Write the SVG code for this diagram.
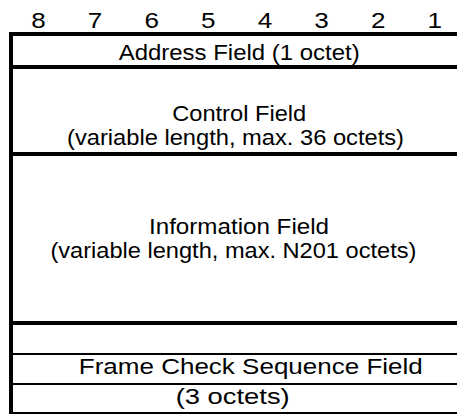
<svg xmlns="http://www.w3.org/2000/svg" width="457" height="414" viewBox="0 0 457 414">
<style>
.t{font-family:"Liberation Sans",Arial,sans-serif;font-size:22.5px;fill:#000;text-anchor:middle}
.ln{fill:#000}
</style>
<rect x="0" y="0" width="457" height="414" fill="#fff"/>
<g id="bit-numbers">
<text class="t" x="38.5" y="28" textLength="14.5" lengthAdjust="spacingAndGlyphs">8</text>
<text class="t" x="95" y="28" textLength="14.5" lengthAdjust="spacingAndGlyphs">7</text>
<text class="t" x="151.7" y="28" textLength="14.5" lengthAdjust="spacingAndGlyphs">6</text>
<text class="t" x="208.3" y="28" textLength="14.5" lengthAdjust="spacingAndGlyphs">5</text>
<text class="t" x="265" y="28" textLength="14.5" lengthAdjust="spacingAndGlyphs">4</text>
<text class="t" x="321.6" y="28" textLength="14.5" lengthAdjust="spacingAndGlyphs">3</text>
<text class="t" x="378.2" y="28" textLength="14.5" lengthAdjust="spacingAndGlyphs">2</text>
<text class="t" x="434.8" y="28" textLength="14.5" lengthAdjust="spacingAndGlyphs">1</text>
</g>
<g id="frame-lines">
<rect class="ln" x="9" y="32" width="4" height="382"/>
<rect class="ln" x="9" y="32" width="448" height="4"/>
<rect class="ln" x="9" y="65" width="448" height="4"/>
<rect class="ln" x="9" y="152" width="448" height="4"/>
<rect class="ln" x="9" y="321" width="448" height="4"/>
<rect class="ln" x="9" y="353" width="448" height="2"/>
<rect class="ln" x="9" y="383" width="448" height="2"/>
<rect class="ln" x="9" y="412" width="448" height="2"/>
</g>
<g id="address-field">
<text class="t" x="239.2" y="59.5" textLength="241" lengthAdjust="spacingAndGlyphs">Address Field (1 octet)</text>
</g>
<g id="control-field">
<text class="t" x="239.2" y="120.5" textLength="134" lengthAdjust="spacingAndGlyphs">Control Field</text>
<text class="t" x="235.5" y="144.5" textLength="337" lengthAdjust="spacingAndGlyphs">(variable length, max. 36 octets)</text>
</g>
<g id="information-field">
<text class="t" x="239" y="234.3" textLength="180" lengthAdjust="spacingAndGlyphs">Information Field</text>
<text class="t" x="233.4" y="258" textLength="366" lengthAdjust="spacingAndGlyphs">(variable length, max. N201 octets)</text>
</g>
<g id="fcs-field">
<text class="t" x="250.8" y="374.3" textLength="344" lengthAdjust="spacingAndGlyphs">Frame Check Sequence Field</text>
<text class="t" x="232.7" y="404" textLength="114" lengthAdjust="spacingAndGlyphs">(3 octets)</text>
</g>
</svg>
